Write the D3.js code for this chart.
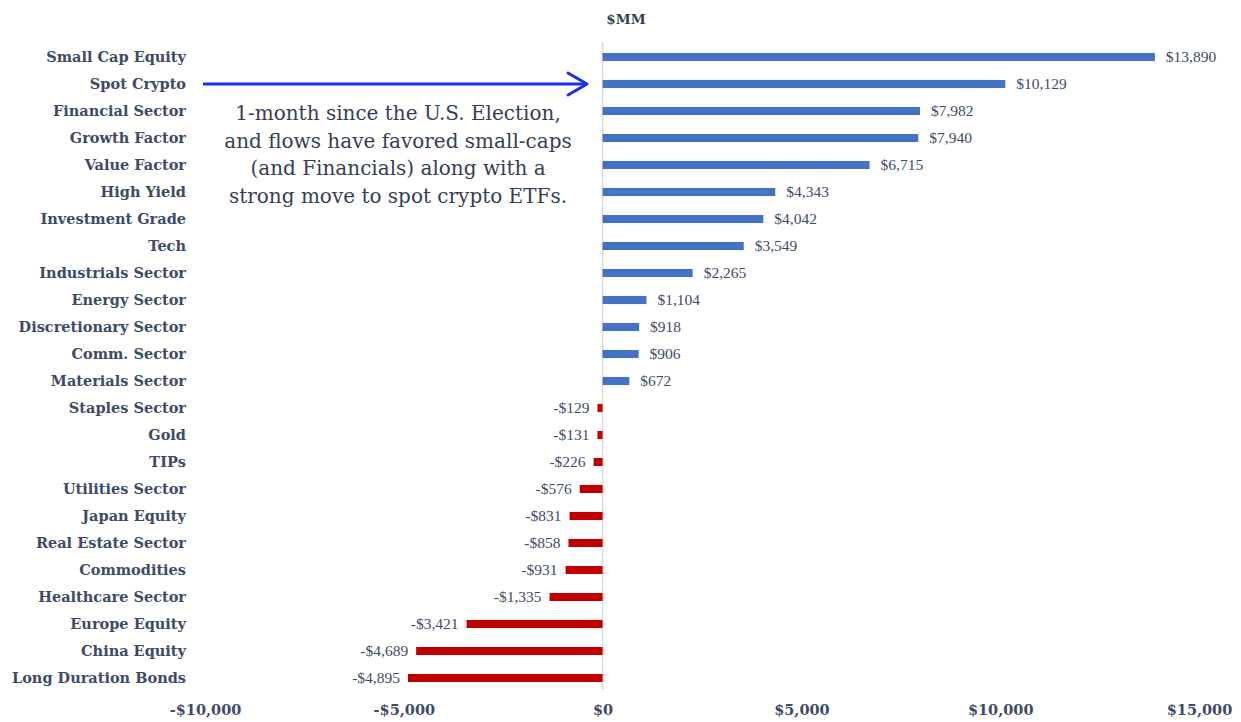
<!DOCTYPE html>
<html>
<head>
<meta charset="utf-8">
<script src="https://cdn.jsdelivr.net/npm/d3@7"></script>
<style>
  body { margin: 0; background: #fff; }
</style>
</head>
<body>
<script>
// data ($MM)
const categories = ["Small Cap Equity", "Spot Crypto", "Financial Sector", "Growth Factor", "Value Factor",
  "High Yield", "Investment Grade", "Tech", "Industrials Sector", "Energy Sector", "Discretionary Sector",
  "Comm. Sector", "Materials Sector", "Staples Sector", "Gold", "TIPs", "Utilities Sector", "Japan Equity",
  "Real Estate Sector", "Commodities", "Healthcare Sector", "Europe Equity", "China Equity", "Long Duration Bonds"];
const flows = [13890, 10129, 7982, 7940, 6715, 4343, 4042, 3549, 2265, 1104, 918, 906, 672,
  -129, -131, -226, -576, -831, -858, -931, -1335, -3421, -4689, -4895];
const tickValues = [-10000, -5000, 0, 5000, 10000, 15000];
const noteLines = ["1-month since the U.S. Election,", "and flows have favored small-caps",
  "(and Financials) along with a", "strong move to spot crypto ETFs."];

const W = 1241, H = 722;
const textColor = "#3d4b6b";
const serif = "'DejaVu Serif', 'Liberation Serif', serif";
const serifNarrow = "'Liberation Serif', serif";

const svg = d3.select("body").append("svg")
    .attr("width", W)
    .attr("height", H);

const x = d3.scaleLinear().domain([-10000, 15000]).range([205, 1199]);
const y = d3.scaleBand().domain(categories).range([43.5, 691.5]).paddingInner(0.7).paddingOuter(0.35);

const fmt = v => (v < 0 ? "-$" : "$") + d3.format(",")(Math.abs(v));

// zero line
svg.append("line")
    .attr("x1", x(0)).attr("x2", x(0))
    .attr("y1", 42).attr("y2", 690)
    .attr("stroke", "#d9d9d9").attr("stroke-width", 1.5);

// bars
svg.selectAll(".bar").data(flows).enter()
    .append("rect")
    .attr("class", "bar")
    .attr("x", d => x(Math.min(0, d)))
    .attr("width", d => Math.abs(x(d) - x(0)))
    .attr("y", (d, i) => y(categories[i]))
    .attr("height", y.bandwidth())
    .attr("fill", d => d >= 0 ? "#4472c4" : "#c00000");

// value labels
svg.selectAll(".val").data(flows).enter()
    .append("text")
    .attr("class", "val")
    .attr("x", d => d >= 0 ? x(d) + 11 : x(d) - 8)
    .attr("y", (d, i) => y(categories[i]) + y.bandwidth() / 2)
    .attr("dy", "0.35em")
    .attr("text-anchor", d => d >= 0 ? "start" : "end")
    .style("font-family", serifNarrow)
    .style("font-size", "15.5px")
    .attr("fill", textColor)
    .text(fmt);

// category labels
svg.selectAll(".cat").data(categories).enter()
    .append("text")
    .attr("class", "cat")
    .attr("x", 186)
    .attr("y", d => y(d) + y.bandwidth() / 2)
    .attr("dy", "0.35em")
    .attr("text-anchor", "end")
    .style("font-family", serif)
    .style("font-size", "14.5px")
    .style("font-weight", "bold")
    .attr("fill", textColor)
    .text(d => d);

// x axis (labels only)
const xAxis = d3.axisBottom(x).tickValues(tickValues).tickSize(0).tickPadding(0).tickFormat(fmt);
const gx = svg.append("g")
    .attr("transform", "translate(0,705)")
    .call(xAxis);
gx.select(".domain").remove();
gx.selectAll("text")
    .style("font-family", serif)
    .style("font-size", "14.5px")
    .style("font-weight", "bold")
    .attr("fill", textColor);

// unit label
svg.append("text")
    .attr("x", 626).attr("y", 24)
    .attr("text-anchor", "middle")
    .style("font-family", serif)
    .style("font-size", "13.5px")
    .style("font-weight", "bold")
    .attr("fill", "#333f55")
    .text("$MM");

// arrow pointing at Spot Crypto
const ay = y("Spot Crypto") + y.bandwidth() / 2;
svg.append("line")
    .attr("x1", 203).attr("x2", 586)
    .attr("y1", ay).attr("y2", ay)
    .attr("stroke", "#1a2ff0").attr("stroke-width", 3);
svg.append("path")
    .attr("d", `M${568},${ay - 11} L${587},${ay} L${568},${ay + 11}`)
    .attr("fill", "none")
    .attr("stroke", "#1a2ff0").attr("stroke-width", 3)
    .attr("stroke-linecap", "round").attr("stroke-linejoin", "round");

// annotation
svg.append("g").selectAll("text").data(noteLines).enter()
    .append("text")
    .attr("x", 398)
    .attr("y", (d, i) => 120 + i * 27.5)
    .attr("text-anchor", "middle")
    .style("font-family", serif)
    .style("font-size", "20px")
    .attr("fill", "#343e55")
    .text(d => d);
</script>
</body>
</html>
